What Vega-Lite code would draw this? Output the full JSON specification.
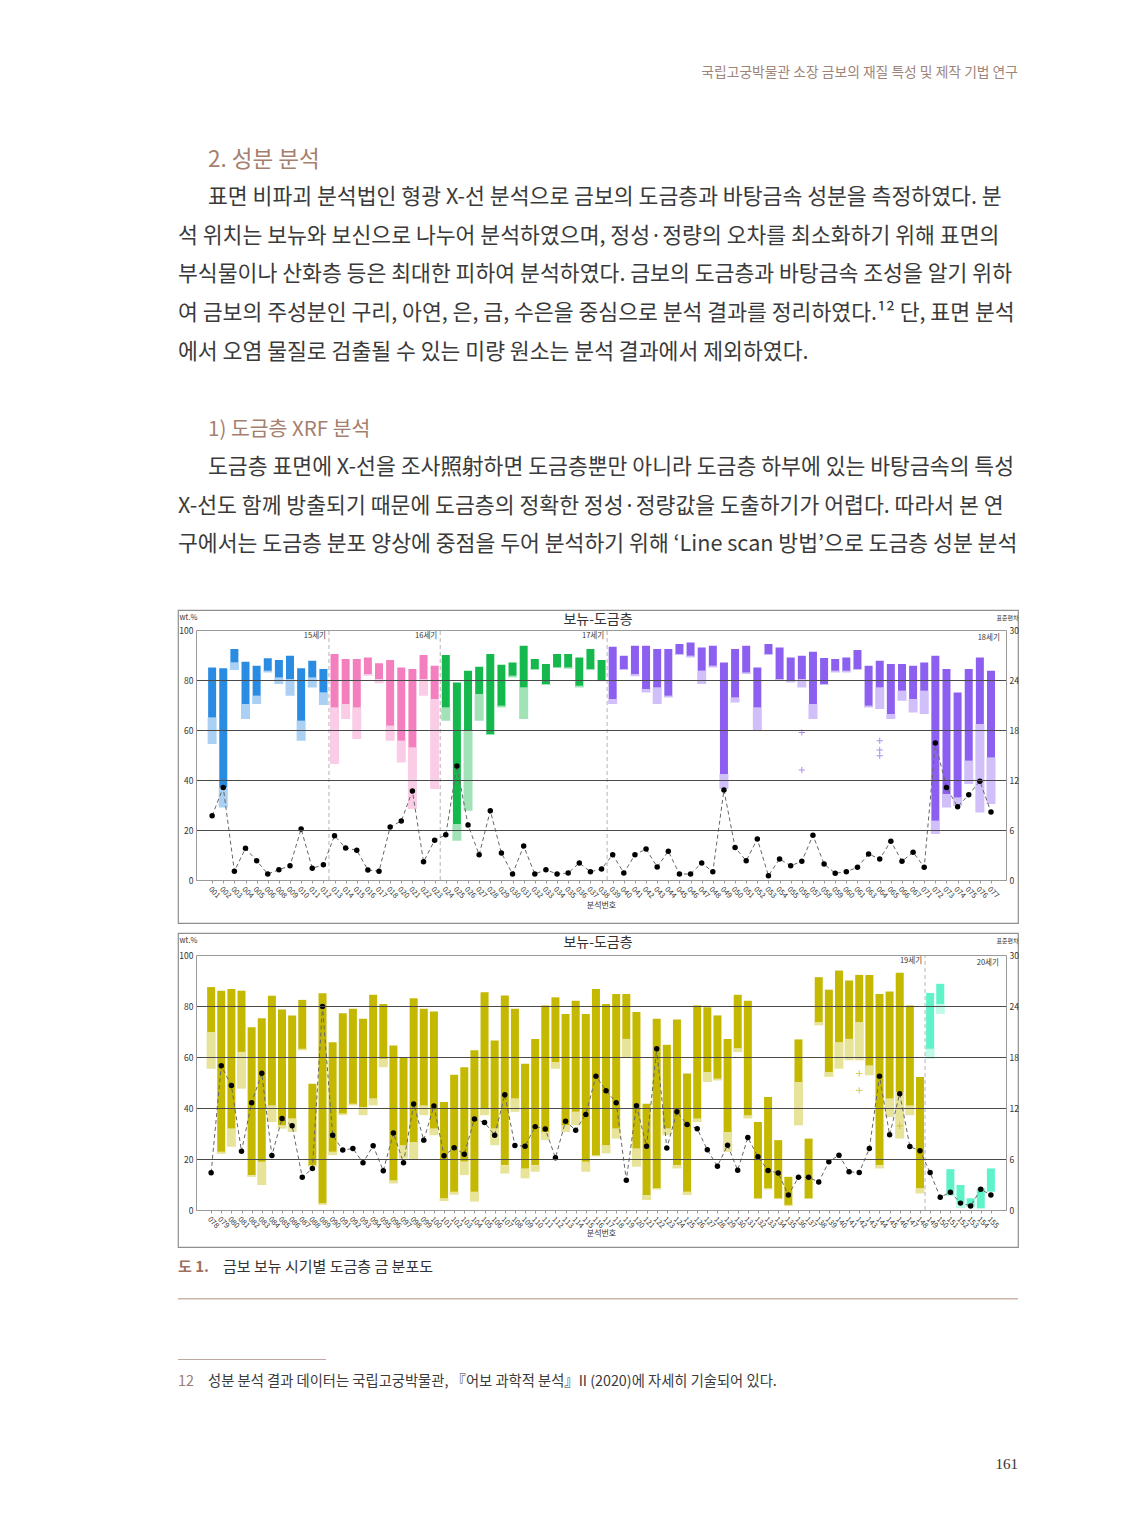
{
  "$schema": "https://vega.github.io/schema/vega-lite/v6.json",
  "background": "#ffffff",
  "padding": {"left": 177, "top": 55, "right": 0, "bottom": 0},
  "bounds": "flush",
  "spacing": 0,
  "config": {
    "font": "Noto Sans CJK KR",
    "view": {"stroke": null},
    "title": {"fontWeight": "normal"},
    "axis": {"labelOverlap": false}
  },
  "datasets": {
    "body": [
      {"row": 0, "kind": "h1", "text": "2. 성분 분석"},
      {"row": 1, "kind": "p1", "text": "표면 비파괴 분석법인 형광 X-선 분석으로 금보의 도금층과 바탕금속 성분을 측정하였다. 분"},
      {"row": 2, "kind": "p", "text": "석 위치는 보뉴와 보신으로 나누어 분석하였으며, 정성·정량의 오차를 최소화하기 위해 표면의"},
      {"row": 3, "kind": "p", "text": "부식물이나 산화층 등은 최대한 피하여 분석하였다. 금보의 도금층과 바탕금속 조성을 알기 위하"},
      {"row": 4, "kind": "p", "text": "여 금보의 주성분인 구리, 아연, 은, 금, 수은을 중심으로 분석 결과를 정리하였다.¹² 단, 표면 분석"},
      {"row": 5, "kind": "p", "text": "에서 오염 물질로 검출될 수 있는 미량 원소는 분석 결과에서 제외하였다."},
      {"row": 7, "kind": "h2", "text": "1) 도금층 XRF 분석"},
      {"row": 8, "kind": "p1", "text": "도금층 표면에 X-선을 조사照射하면 도금층뿐만 아니라 도금층 하부에 있는 바탕금속의 특성"},
      {"row": 9, "kind": "p", "text": "X-선도 함께 방출되기 때문에 도금층의 정확한 정성·정량값을 도출하기가 어렵다. 따라서 본 연"},
      {"row": 10, "kind": "p", "text": "구에서는 도금층 분포 양상에 중점을 두어 분석하기 위해 ‘Line scan 방법’으로 도금층 성분 분석"}
    ],
    "c1": [
      {"i": 1, "id": "001", "era": "b", "hi": 85, "lo": 65, "mn": 54.4, "sd": 7.71},
      {"i": 2, "id": "002", "era": "b", "hi": 84.7, "lo": 37, "mn": 29, "sd": 11.1},
      {"i": 3, "id": "003", "era": "b", "hi": 92.4, "lo": 87, "mn": 84, "sd": 1.05},
      {"i": 4, "id": "004", "era": "b", "hi": 87.3, "lo": 70.4, "mn": 64.4, "sd": 3.81},
      {"i": 5, "id": "005", "era": "b", "hi": 85.7, "lo": 73.7, "mn": 70.4, "sd": 2.31},
      {"i": 6, "id": "006", "era": "b", "hi": 88.7, "lo": 83.7, "mn": 83, "sd": 0.72},
      {"i": 7, "id": "008", "era": "b", "hi": 88, "lo": 81, "mn": 78.4, "sd": 1.23},
      {"i": 8, "id": "009", "era": "b", "hi": 89.7, "lo": 80.4, "mn": 73.7, "sd": 1.71},
      {"i": 9, "id": "010", "era": "b", "hi": 84.7, "lo": 63.7, "mn": 55.7, "sd": 6.12},
      {"i": 10, "id": "011", "era": "b", "hi": 87.7, "lo": 81, "mn": 77, "sd": 1.41},
      {"i": 11, "id": "012", "era": "b", "hi": 84.4, "lo": 75, "mn": 70, "sd": 1.83},
      {"i": 12, "id": "013", "era": "p", "hi": 90.4, "lo": 69, "mn": 46.4, "sd": 5.31},
      {"i": 13, "id": "014", "era": "p", "hi": 88.4, "lo": 70.4, "mn": 64.4, "sd": 3.84},
      {"i": 14, "id": "015", "era": "p", "hi": 88.4, "lo": 69, "mn": 56.4, "sd": 3.57},
      {"i": 15, "id": "016", "era": "p", "hi": 89, "lo": 82.4, "mn": 81.7, "sd": 1.2},
      {"i": 16, "id": "017", "era": "p", "hi": 86.7, "lo": 80.4, "mn": 78.7, "sd": 1.05},
      {"i": 17, "id": "018", "era": "p", "hi": 88, "lo": 61.7, "mn": 55.7, "sd": 6.36},
      {"i": 18, "id": "020", "era": "p", "hi": 85, "lo": 55.7, "mn": 47, "sd": 7.08},
      {"i": 19, "id": "021", "era": "p", "hi": 84.4, "lo": 53, "mn": 28.4, "sd": 10.68},
      {"i": 20, "id": "022", "era": "p", "hi": 90, "lo": 80.4, "mn": 73.7, "sd": 2.19},
      {"i": 21, "id": "023", "era": "p", "hi": 85.7, "lo": 72.4, "mn": 36.4, "sd": 4.77},
      {"i": 22, "id": "024", "era": "g", "hi": 90, "lo": 69, "mn": 63.7, "sd": 5.43},
      {"i": 23, "id": "025", "era": "g", "hi": 79, "lo": 22.4, "mn": 15.7, "sd": 13.68},
      {"i": 24, "id": "026", "era": "g", "hi": 83.7, "lo": 59.7, "mn": 27.7, "sd": 6.6},
      {"i": 25, "id": "027", "era": "g", "hi": 85.3, "lo": 74.4, "mn": 63.7, "sd": 3.03},
      {"i": 26, "id": "028", "era": "g", "hi": 90.4, "lo": 58.4, "mn": 58, "sd": 8.31},
      {"i": 27, "id": "029", "era": "g", "hi": 86.1, "lo": 69.7, "mn": 69, "sd": 3.24},
      {"i": 28, "id": "030", "era": "g", "hi": 87, "lo": 81.7, "mn": 81, "sd": 0.72},
      {"i": 29, "id": "031", "era": "g", "hi": 93.7, "lo": 77, "mn": 64.4, "sd": 4.08},
      {"i": 30, "id": "032", "era": "g", "hi": 88.4, "lo": 84.4, "mn": 84, "sd": 0.72},
      {"i": 31, "id": "033", "era": "g", "hi": 86.4, "lo": 78.4, "mn": 78, "sd": 1.23},
      {"i": 32, "id": "034", "era": "g", "hi": 90.4, "lo": 85, "mn": 85, "sd": 0.72},
      {"i": 33, "id": "035", "era": "g", "hi": 90.4, "lo": 85, "mn": 84.5, "sd": 0.84},
      {"i": 34, "id": "036", "era": "g", "hi": 89, "lo": 77.7, "mn": 77, "sd": 2.04},
      {"i": 35, "id": "037", "era": "g", "hi": 92.4, "lo": 84.4, "mn": 84, "sd": 0.99},
      {"i": 36, "id": "038", "era": "g", "hi": 88, "lo": 80, "mn": 79.5, "sd": 1.32},
      {"i": 37, "id": "039", "era": "v", "hi": 93.3, "lo": 72.4, "mn": 70.4, "sd": 3.03},
      {"i": 38, "id": "040", "era": "v", "hi": 89.7, "lo": 84.4, "mn": 84, "sd": 0.84},
      {"i": 39, "id": "041", "era": "v", "hi": 93.7, "lo": 82.4, "mn": 81.5, "sd": 3.03},
      {"i": 40, "id": "042", "era": "v", "hi": 93.7, "lo": 76.4, "mn": 75, "sd": 3.72},
      {"i": 41, "id": "043", "era": "v", "hi": 92.4, "lo": 77, "mn": 70.4, "sd": 1.56},
      {"i": 42, "id": "044", "era": "v", "hi": 92.4, "lo": 73.7, "mn": 73, "sd": 3.45},
      {"i": 43, "id": "045", "era": "v", "hi": 94.4, "lo": 90.4, "mn": 90, "sd": 0.72},
      {"i": 44, "id": "046", "era": "v", "hi": 95, "lo": 89.7, "mn": 89, "sd": 0.72},
      {"i": 45, "id": "047", "era": "v", "hi": 93, "lo": 83.7, "mn": 78.4, "sd": 2.04},
      {"i": 46, "id": "048", "era": "v", "hi": 93.7, "lo": 85.7, "mn": 85, "sd": 0.99},
      {"i": 47, "id": "049", "era": "v", "hi": 87, "lo": 42.4, "mn": 36.4, "sd": 10.8},
      {"i": 48, "id": "050", "era": "v", "hi": 92.4, "lo": 73, "mn": 71, "sd": 3.9},
      {"i": 49, "id": "051", "era": "v", "hi": 93.7, "lo": 83, "mn": 82.4, "sd": 2.31},
      {"i": 50, "id": "052", "era": "v", "hi": 85, "lo": 69, "mn": 59.7, "sd": 4.92},
      {"i": 51, "id": "053", "era": "v", "hi": 94.4, "lo": 90.4, "mn": 90, "sd": 0.51},
      {"i": 52, "id": "054", "era": "v", "hi": 93, "lo": 80.4, "mn": 80, "sd": 2.52},
      {"i": 53, "id": "055", "era": "v", "hi": 89, "lo": 79.7, "mn": 79, "sd": 1.71},
      {"i": 54, "id": "056", "era": "v", "hi": 89.7, "lo": 80.4, "mn": 77, "sd": 2.25},
      {"i": 55, "id": "057", "era": "v", "hi": 91.3, "lo": 70.4, "mn": 64.4, "sd": 5.37},
      {"i": 56, "id": "058", "era": "v", "hi": 88.8, "lo": 78.4, "mn": 78, "sd": 1.92},
      {"i": 57, "id": "059", "era": "v", "hi": 88.4, "lo": 83.7, "mn": 83, "sd": 0.81},
      {"i": 58, "id": "060", "era": "v", "hi": 89, "lo": 83.7, "mn": 83, "sd": 0.99},
      {"i": 59, "id": "061", "era": "v", "hi": 92, "lo": 84.4, "mn": 84, "sd": 1.53},
      {"i": 60, "id": "063", "era": "v", "hi": 85.7, "lo": 69.7, "mn": 69, "sd": 3.12},
      {"i": 61, "id": "064", "era": "v", "hi": 87.7, "lo": 77, "mn": 68.4, "sd": 2.52},
      {"i": 62, "id": "065", "era": "v", "hi": 86.4, "lo": 66.4, "mn": 64.4, "sd": 4.65},
      {"i": 63, "id": "066", "era": "v", "hi": 86.4, "lo": 75.7, "mn": 71.7, "sd": 2.25},
      {"i": 64, "id": "067", "era": "v", "hi": 85.7, "lo": 72.4, "mn": 67, "sd": 3.33},
      {"i": 65, "id": "071", "era": "v", "hi": 87, "lo": 75.7, "mn": 66.4, "sd": 1.53},
      {"i": 66, "id": "072", "era": "v", "hi": 89.7, "lo": 23.7, "mn": 18.4, "sd": 16.44},
      {"i": 67, "id": "073", "era": "v", "hi": 84.4, "lo": 34.4, "mn": 29, "sd": 11.1},
      {"i": 68, "id": "074", "era": "v", "hi": 75, "lo": 33, "mn": 29.7, "sd": 8.79},
      {"i": 69, "id": "075", "era": "v", "hi": 84.4, "lo": 47.7, "mn": 38.4, "sd": 10.23},
      {"i": 70, "id": "076", "era": "v", "hi": 89, "lo": 62.4, "mn": 27, "sd": 11.85},
      {"i": 71, "id": "077", "era": "v", "hi": 83.7, "lo": 49, "mn": 30.4, "sd": 8.16}
    ],
    "out1": [
      {"i": 54, "era": "v", "v": 59},
      {"i": 54, "era": "v", "v": 44},
      {"i": 61, "era": "v", "v": 55.7},
      {"i": 61, "era": "v", "v": 52},
      {"i": 61, "era": "v", "v": 49.7}
    ],
    "era1": [
      {"i": 11.5, "label": "15세기", "boundary": true},
      {"i": 21.5, "label": "16세기", "boundary": true},
      {"i": 36.5, "label": "17세기", "boundary": true},
      {"i": 70.8, "label": "18세기", "boundary": false}
    ],
    "c2": [
      {"n": 78, "era": "o", "hi": 87.4, "lo": 69.8, "mn": 55.4, "sd": 4.38},
      {"n": 79, "era": "o", "hi": 86, "lo": 22.8, "mn": 22, "sd": 16.98},
      {"n": 80, "era": "o", "hi": 86.7, "lo": 32, "mn": 24.8, "sd": 14.64},
      {"n": 81, "era": "o", "hi": 86, "lo": 62, "mn": 47.6, "sd": 6.9},
      {"n": 82, "era": "o", "hi": 71.7, "lo": 13.7, "mn": 13, "sd": 12.63},
      {"n": 83, "era": "o", "hi": 75.2, "lo": 18.9, "mn": 9.8, "sd": 16.08},
      {"n": 84, "era": "o", "hi": 84, "lo": 41, "mn": 34.5, "sd": 6.42},
      {"n": 85, "era": "o", "hi": 78.6, "lo": 33.2, "mn": 31.9, "sd": 10.77},
      {"n": 86, "era": "o", "hi": 76.3, "lo": 35.9, "mn": 30.6, "sd": 9.9},
      {"n": 87, "era": "o", "hi": 82.4, "lo": 63.2, "mn": 62.6, "sd": 3.84},
      {"n": 88, "era": "o", "hi": 49.5, "lo": 17.6, "mn": 17, "sd": 4.89},
      {"n": 89, "era": "o", "hi": 85, "lo": 2.6, "mn": 2, "sd": 23.94},
      {"n": 90, "era": "o", "hi": 65.8, "lo": 22.8, "mn": 21.5, "sd": 8.79},
      {"n": 91, "era": "o", "hi": 77.2, "lo": 37.8, "mn": 37.2, "sd": 7.05},
      {"n": 92, "era": "o", "hi": 78.9, "lo": 41.7, "mn": 41, "sd": 7.23},
      {"n": 93, "era": "o", "hi": 75, "lo": 40.4, "mn": 37.2, "sd": 5.55},
      {"n": 94, "era": "o", "hi": 84.4, "lo": 43.7, "mn": 41, "sd": 7.56},
      {"n": 95, "era": "o", "hi": 80.8, "lo": 59.3, "mn": 56, "sd": 4.62},
      {"n": 96, "era": "o", "hi": 64.5, "lo": 11.7, "mn": 10.4, "sd": 9.06},
      {"n": 97, "era": "o", "hi": 60, "lo": 25.4, "mn": 20.2, "sd": 5.55},
      {"n": 98, "era": "o", "hi": 83, "lo": 26.7, "mn": 19.6, "sd": 12.48},
      {"n": 99, "era": "o", "hi": 78.9, "lo": 41, "mn": 37.2, "sd": 8.22},
      {"n": 100, "era": "o", "hi": 77.8, "lo": 32, "mn": 29.3, "sd": 12.24},
      {"n": 101, "era": "o", "hi": 42.4, "lo": 4.6, "mn": 3.5, "sd": 6.39},
      {"n": 102, "era": "o", "hi": 53, "lo": 7.2, "mn": 6, "sd": 7.32},
      {"n": 103, "era": "o", "hi": 56, "lo": 19, "mn": 13.7, "sd": 6.57},
      {"n": 104, "era": "o", "hi": 62.6, "lo": 7.2, "mn": 3.3, "sd": 10.71},
      {"n": 105, "era": "o", "hi": 85.4, "lo": 39.8, "mn": 37.2, "sd": 10.29},
      {"n": 106, "era": "o", "hi": 66.5, "lo": 32, "mn": 25.4, "sd": 8.79},
      {"n": 107, "era": "o", "hi": 84.1, "lo": 17.6, "mn": 14.3, "sd": 13.56},
      {"n": 108, "era": "o", "hi": 78.9, "lo": 43.7, "mn": 38.5, "sd": 7.59},
      {"n": 109, "era": "o", "hi": 57.4, "lo": 16.3, "mn": 12.4, "sd": 7.5},
      {"n": 110, "era": "o", "hi": 67.1, "lo": 17.6, "mn": 15, "sd": 9.81},
      {"n": 111, "era": "o", "hi": 80.2, "lo": 30.6, "mn": 27.4, "sd": 9.54},
      {"n": 112, "era": "o", "hi": 83.4, "lo": 58, "mn": 55.4, "sd": 6.15},
      {"n": 113, "era": "o", "hi": 76.9, "lo": 33.2, "mn": 30.6, "sd": 10.44},
      {"n": 114, "era": "o", "hi": 82.1, "lo": 38.5, "mn": 33.2, "sd": 9.39},
      {"n": 115, "era": "o", "hi": 76.9, "lo": 18.9, "mn": 15, "sd": 11.25},
      {"n": 116, "era": "o", "hi": 86.7, "lo": 21.5, "mn": 21, "sd": 15.75},
      {"n": 117, "era": "o", "hi": 80.8, "lo": 25.4, "mn": 22.2, "sd": 14.04},
      {"n": 118, "era": "o", "hi": 84.7, "lo": 32, "mn": 28, "sd": 12.63},
      {"n": 119, "era": "o", "hi": 84.7, "lo": 67.1, "mn": 60, "sd": 3.51},
      {"n": 120, "era": "o", "hi": 77.6, "lo": 24.1, "mn": 17, "sd": 12.27},
      {"n": 121, "era": "o", "hi": 41.7, "lo": 5.9, "mn": 3.9, "sd": 7.5},
      {"n": 122, "era": "o", "hi": 75, "lo": 8.5, "mn": 8, "sd": 18.96},
      {"n": 123, "era": "o", "hi": 64.8, "lo": 32, "mn": 29.3, "sd": 7.29},
      {"n": 124, "era": "o", "hi": 74.7, "lo": 17.6, "mn": 16.3, "sd": 11.55},
      {"n": 125, "era": "o", "hi": 53.5, "lo": 7.2, "mn": 5.9, "sd": 10.05},
      {"n": 126, "era": "o", "hi": 80.2, "lo": 35.9, "mn": 34.5, "sd": 9.57},
      {"n": 127, "era": "o", "hi": 79.5, "lo": 54.1, "mn": 50.2, "sd": 7.08},
      {"n": 128, "era": "o", "hi": 76.3, "lo": 51.5, "mn": 50.8, "sd": 5.16},
      {"n": 129, "era": "o", "hi": 67.1, "lo": 30.6, "mn": 22.8, "sd": 7.62},
      {"n": 130, "era": "o", "hi": 84.4, "lo": 63.5, "mn": 61.9, "sd": 4.68},
      {"n": 131, "era": "o", "hi": 82.1, "lo": 37.2, "mn": 35.9, "sd": 8.52},
      {"n": 132, "era": "o", "hi": 34.5, "lo": 4.6, "mn": 4.3, "sd": 6.27},
      {"n": 133, "era": "o", "hi": 44.3, "lo": 8.5, "mn": 8, "sd": 4.65},
      {"n": 134, "era": "o", "hi": 27.4, "lo": 4.6, "mn": 4.3, "sd": 4.35},
      {"n": 135, "era": "o", "hi": 13, "lo": 2, "mn": 1.5, "sd": 1.77},
      {"n": 136, "era": "o", "hi": 66.9, "lo": 50.2, "mn": 33.2, "sd": 3.84},
      {"n": 137, "era": "o", "hi": 28, "lo": 4.6, "mn": 4.3, "sd": 3.84},
      {"n": 138, "era": "o", "hi": 91.3, "lo": 73.7, "mn": 72.4, "sd": 3.3},
      {"n": 139, "era": "o", "hi": 86.4, "lo": 54.1, "mn": 52.2, "sd": 5.67},
      {"n": 140, "era": "o", "hi": 93.9, "lo": 65.8, "mn": 55.4, "sd": 6.45},
      {"n": 141, "era": "o", "hi": 90, "lo": 67.1, "mn": 58.7, "sd": 4.5},
      {"n": 142, "era": "o", "hi": 92.2, "lo": 73.7, "mn": 58.7, "sd": 4.41},
      {"n": 143, "era": "o", "hi": 92.2, "lo": 56.7, "mn": 52.8, "sd": 7.23},
      {"n": 144, "era": "o", "hi": 84.7, "lo": 17.6, "mn": 16.3, "sd": 15.75},
      {"n": 145, "era": "o", "hi": 85.7, "lo": 43.7, "mn": 36.5, "sd": 8.85},
      {"n": 146, "era": "o", "hi": 93, "lo": 46.3, "mn": 28, "sd": 13.68},
      {"n": 147, "era": "o", "hi": 80.2, "lo": 41, "mn": 37.2, "sd": 7.47},
      {"n": 148, "era": "o", "hi": 52.2, "lo": 8.5, "mn": 6.5, "sd": 6.96},
      {"n": 149, "era": "a", "hi": 85.1, "lo": 63.2, "mn": 59.3, "sd": 4.41},
      {"n": 150, "era": "a", "hi": 88.7, "lo": 80.8, "mn": 76.9, "sd": 1.5},
      {"n": 151, "era": "a", "hi": 16, "lo": 5.9, "mn": 5.5, "sd": 2.1},
      {"n": 152, "era": "a", "hi": 9.8, "lo": 2.6, "mn": 0.7, "sd": 0.81},
      {"n": 153, "era": "a", "hi": 4.6, "lo": 1.3, "mn": 1, "sd": 0.48},
      {"n": 154, "era": "a", "hi": 8.5, "lo": 0.7, "mn": 0.5, "sd": 2.43},
      {"n": 155, "era": "a", "hi": 16.3, "lo": 7.2, "mn": 7, "sd": 1.77}
    ],
    "out2": [
      {"n": 142, "era": "o", "v": 53.5},
      {"n": 142, "era": "o", "v": 46.9},
      {"n": 146, "era": "o", "v": 33}
    ],
    "era2": [
      {"n": 148.5, "label": "19세기", "boundary": true},
      {"n": 154.7, "label": "20세기", "boundary": false}
    ]
  },
  "vconcat": [
    {
      "width": 840,
      "height": 36,
      "data": {"values": [{"t": "국립고궁박물관 소장 금보의 재질 특성 및 제작 기법 연구"}]},
      "mark": {"type": "text", "align": "right", "baseline": "middle", "fontSize": 13.8, "color": "#9e8479"},
      "encoding": {"x": {"value": "width"}, "text": {"field": "t"}}
    },
    {
      "width": 840,
      "height": 519,
      "data": {"name": "body"},
      "encoding": {
        "y": {"field": "row", "type": "quantitative", "scale": {"domain": [-1.792, 11.688], "reverse": true, "nice": false, "zero": false}, "axis": null},
        "x": {"value": 0},
        "text": {"field": "text"}
      },
      "layer": [
        {"transform": [{"filter": "datum.kind == 'p'"}], "mark": {"type": "text", "align": "left", "baseline": "middle", "fontSize": 21.6, "color": "#3a3a3a"}},
        {"transform": [{"filter": "datum.kind == 'p1'"}], "mark": {"type": "text", "align": "left", "baseline": "middle", "dx": 30, "fontSize": 21.6, "color": "#3a3a3a"}},
        {"transform": [{"filter": "datum.kind == 'h1'"}], "mark": {"type": "text", "align": "left", "baseline": "middle", "dx": 30, "fontSize": 22.5, "color": "#a5806f"}},
        {"transform": [{"filter": "datum.kind == 'h2'"}], "mark": {"type": "text", "align": "left", "baseline": "middle", "dx": 30, "fontSize": 20.5, "color": "#a5806f"}}
      ]
    },
    {
      "width": 840,
      "height": 313,
      "view": {"stroke": "#8f8f8f", "strokeWidth": 1.2},
      "title": {"text": "보뉴-도금층", "offset": -17, "fontSize": 14, "color": "#333333", "anchor": "middle", "fontWeight": "normal"},
      "encoding": {
        "x": {"field": "i", "type": "quantitative", "scale": {"domain": [0, 71.9], "range": [18, 828], "nice": false, "zero": false},
          "axis": {"values": [1,2,3,4,5,6,7,8,9,10,11,12,13,14,15,16,17,18,19,20,21,22,23,24,25,26,27,28,29,30,31,32,33,34,35,36,37,38,39,40,41,42,43,44,45,46,47,48,49,50,51,52,53,54,55,56,57,58,59,60,61,62,63,64,65,66,67,68,69,70,71],
            "labelExpr": "['001','002','003','004','005','006','008','009','010','011','012','013','014','015','016','017','018','020','021','022','023','024','025','026','027','028','029','030','031','032','033','034','035','036','037','038','039','040','041','042','043','044','045','046','047','048','049','050','051','052','053','054','055','056','057','058','059','060','061','063','064','065','066','067','071','072','073','074','075','076','077'][datum.value-1]",
            "labelAngle": 45, "labelFontSize": 7.5, "labelColor": "#333333", "labelPadding": 2, "labelOverlap": false, "labelFlush": false, "labelBound": false,
            "ticks": true, "tickSize": 3, "tickColor": "#9a9a9a", "domainColor": "#8a8a8a", "grid": false, "offset": -43,
            "title": "분석번호", "titleFontSize": 8, "titleFontWeight": "normal", "titleColor": "#333333", "titleY": 25, "titleBaseline": "middle"}}
      },
      "resolve": {"scale": {"y": "independent"}},
      "layer": [
        {
          "layer": [
            {
              "data": {"name": "c1"},
              "mark": {"type": "bar", "width": 9, "opacity": 0.4},
              "encoding": {
                "y": {"field": "mn", "type": "quantitative", "scale": {"domain": [0, 100], "range": [270, 20], "nice": false, "zero": false},
                  "axis": {"orient": "left", "values": [0, 20, 40, 60, 80, 100], "offset": -18, "zindex": 1,
                    "grid": true, "gridColor": {"condition": {"test": "datum.value == 0 || datum.value == 100", "value": "#9a9a9a"}, "value": "#4a4a4a"}, "gridWidth": 1,
                    "domainColor": "#9a9a9a", "ticks": false, "labelPadding": 3, "labelFontSize": 8.5, "labelColor": "#333333", "labelFlush": false,
                    "title": "wt.%", "titleAngle": 0, "titleX": -17, "titleY": 7, "titleAlign": "left", "titleBaseline": "middle", "titleFontSize": 7.5, "titleFontWeight": "normal", "titleColor": "#333333"}},
                "y2": {"field": "lo"},
                "color": {"field": "era", "type": "nominal", "scale": {"domain": ["b", "p", "g", "v", "o", "a"], "range": ["#2a8be3", "#f37fbf", "#15b84c", "#8c5ff0", "#c4b900", "#5ff3c9"]}, "legend": null}
              }
            },
            {
              "data": {"name": "c1"},
              "mark": {"type": "bar", "width": 8},
              "encoding": {
                "y": {"field": "lo", "type": "quantitative", "scale": {"domain": [0, 100], "range": [270, 20], "nice": false, "zero": false}},
                "y2": {"field": "hi"},
                "color": {"field": "era", "type": "nominal", "legend": null}
              }
            },
            {
              "data": {"name": "out1"},
              "mark": {"type": "point", "shape": "M-1,0L1,0M0,-1L0,1", "filled": false, "size": 40, "strokeWidth": 1, "opacity": 0.7},
              "encoding": {
                "y": {"field": "v", "type": "quantitative", "scale": {"domain": [0, 100], "range": [270, 20], "nice": false, "zero": false}},
                "color": {"field": "era", "type": "nominal", "legend": null}
              }
            },
            {
              "data": {"name": "era1"},
              "transform": [{"filter": "datum.boundary"}],
              "mark": {"type": "rule", "strokeDash": [4, 3], "color": "#b5b5b5", "strokeWidth": 1},
              "encoding": {
                "y": {"datum": 0, "type": "quantitative", "scale": {"domain": [0, 100], "range": [270, 20], "nice": false, "zero": false}},
                "y2": {"datum": 100}
              }
            },
            {
              "data": {"name": "era1"},
              "transform": [{"filter": "datum.boundary"}],
              "mark": {"type": "text", "align": "right", "baseline": "middle", "dx": -3, "fontSize": 7.5, "color": "#333333"},
              "encoding": {
                "y": {"datum": 97.5, "type": "quantitative", "scale": {"domain": [0, 100], "range": [270, 20], "nice": false, "zero": false}},
                "text": {"field": "label"}
              }
            },
            {
              "data": {"name": "era1"},
              "transform": [{"filter": "!datum.boundary"}],
              "mark": {"type": "text", "align": "center", "baseline": "middle", "fontSize": 7.5, "color": "#333333"},
              "encoding": {
                "y": {"datum": 97, "type": "quantitative", "scale": {"domain": [0, 100], "range": [270, 20], "nice": false, "zero": false}},
                "text": {"field": "label"}
              }
            }
          ]
        },
        {
          "data": {"name": "c1"},
          "layer": [
            {
              "mark": {"type": "line", "strokeDash": [4, 3], "color": "#666666", "strokeWidth": 1},
              "encoding": {
                "y": {"field": "sd", "type": "quantitative", "scale": {"domain": [0, 30], "range": [270, 20], "nice": false, "zero": false},
                  "axis": {"orient": "right", "values": [0, 6, 12, 18, 24, 30], "offset": -12, "zindex": 1, "grid": false, "ticks": false,
                    "domainColor": "#9a9a9a", "labelPadding": 3, "labelFontSize": 8.5, "labelColor": "#333333", "labelFlush": false,
                    "title": "표준편차", "titleAngle": 0, "titleX": 1, "titleY": 7, "titleAlign": "center", "titleBaseline": "middle", "titleFontSize": 6, "titleFontWeight": "normal", "titleColor": "#333333"}}
              }
            },
            {
              "mark": {"type": "point", "filled": true, "color": "#000000", "size": 30, "opacity": 1},
              "encoding": {
                "y": {"field": "sd", "type": "quantitative", "scale": {"domain": [0, 30], "range": [270, 20], "nice": false, "zero": false}}
              }
            }
          ]
        }
      ]
    },
    {
      "width": 840,
      "height": 10,
      "data": {"values": []},
      "mark": "text",
      "encoding": {}
    },
    {
      "width": 840,
      "height": 314,
      "view": {"stroke": "#8f8f8f", "strokeWidth": 1.2},
      "title": {"text": "보뉴-도금층", "offset": -17, "fontSize": 14, "color": "#333333", "anchor": "middle", "fontWeight": "normal"},
      "encoding": {
        "x": {"field": "n", "type": "quantitative", "scale": {"domain": [77, 156], "range": [18, 828], "nice": false, "zero": false},
          "axis": {"values": [78,79,80,81,82,83,84,85,86,87,88,89,90,91,92,93,94,95,96,97,98,99,100,101,102,103,104,105,106,107,108,109,110,111,112,113,114,115,116,117,118,119,120,121,122,123,124,125,126,127,128,129,130,131,132,133,134,135,136,137,138,139,140,141,142,143,144,145,146,147,148,149,150,151,152,153,154,155],
            "labelExpr": "pad(toString(datum.value), 3, '0', 'left')",
            "labelAngle": 45, "labelFontSize": 7.5, "labelColor": "#333333", "labelPadding": 2, "labelOverlap": false, "labelFlush": false, "labelBound": false,
            "ticks": true, "tickSize": 3, "tickColor": "#9a9a9a", "domainColor": "#8a8a8a", "grid": false, "offset": -37,
            "title": "분석번호", "titleFontSize": 8, "titleFontWeight": "normal", "titleColor": "#333333", "titleY": 23, "titleBaseline": "middle"}}
      },
      "resolve": {"scale": {"y": "independent"}},
      "layer": [
        {
          "layer": [
            {
              "data": {"name": "c2"},
              "mark": {"type": "bar", "width": 9, "opacity": 0.4},
              "encoding": {
                "y": {"field": "mn", "type": "quantitative", "scale": {"domain": [0, 100], "range": [277, 22], "nice": false, "zero": false},
                  "axis": {"orient": "left", "values": [0, 20, 40, 60, 80, 100], "offset": -18, "zindex": 1,
                    "grid": true, "gridColor": {"condition": {"test": "datum.value == 0 || datum.value == 100", "value": "#9a9a9a"}, "value": "#4a4a4a"}, "gridWidth": 1,
                    "domainColor": "#9a9a9a", "ticks": false, "labelPadding": 3, "labelFontSize": 8.5, "labelColor": "#333333", "labelFlush": false,
                    "title": "wt.%", "titleAngle": 0, "titleX": -17, "titleY": 7, "titleAlign": "left", "titleBaseline": "middle", "titleFontSize": 7.5, "titleFontWeight": "normal", "titleColor": "#333333"}},
                "y2": {"field": "lo"},
                "color": {"field": "era", "type": "nominal", "scale": {"domain": ["b", "p", "g", "v", "o", "a"], "range": ["#2a8be3", "#f37fbf", "#15b84c", "#8c5ff0", "#c4b900", "#5ff3c9"]}, "legend": null}
              }
            },
            {
              "data": {"name": "c2"},
              "mark": {"type": "bar", "width": 8},
              "encoding": {
                "y": {"field": "lo", "type": "quantitative", "scale": {"domain": [0, 100], "range": [277, 22], "nice": false, "zero": false}},
                "y2": {"field": "hi"},
                "color": {"field": "era", "type": "nominal", "legend": null}
              }
            },
            {
              "data": {"name": "out2"},
              "mark": {"type": "point", "shape": "M-1,0L1,0M0,-1L0,1", "filled": false, "size": 40, "strokeWidth": 1, "opacity": 0.7},
              "encoding": {
                "y": {"field": "v", "type": "quantitative", "scale": {"domain": [0, 100], "range": [277, 22], "nice": false, "zero": false}},
                "color": {"field": "era", "type": "nominal", "legend": null}
              }
            },
            {
              "data": {"name": "era2"},
              "transform": [{"filter": "datum.boundary"}],
              "mark": {"type": "rule", "strokeDash": [4, 3], "color": "#b5b5b5", "strokeWidth": 1},
              "encoding": {
                "y": {"datum": 0, "type": "quantitative", "scale": {"domain": [0, 100], "range": [277, 22], "nice": false, "zero": false}},
                "y2": {"datum": 100}
              }
            },
            {
              "data": {"name": "era2"},
              "transform": [{"filter": "datum.boundary"}],
              "mark": {"type": "text", "align": "right", "baseline": "middle", "dx": -3, "fontSize": 7.5, "color": "#333333"},
              "encoding": {
                "y": {"datum": 97.5, "type": "quantitative", "scale": {"domain": [0, 100], "range": [277, 22], "nice": false, "zero": false}},
                "text": {"field": "label"}
              }
            },
            {
              "data": {"name": "era2"},
              "transform": [{"filter": "!datum.boundary"}],
              "mark": {"type": "text", "align": "center", "baseline": "middle", "fontSize": 7.5, "color": "#333333"},
              "encoding": {
                "y": {"datum": 97, "type": "quantitative", "scale": {"domain": [0, 100], "range": [277, 22], "nice": false, "zero": false}},
                "text": {"field": "label"}
              }
            }
          ]
        },
        {
          "data": {"name": "c2"},
          "layer": [
            {
              "mark": {"type": "line", "strokeDash": [4, 3], "color": "#666666", "strokeWidth": 1},
              "encoding": {
                "y": {"field": "sd", "type": "quantitative", "scale": {"domain": [0, 30], "range": [277, 22], "nice": false, "zero": false},
                  "axis": {"orient": "right", "values": [0, 6, 12, 18, 24, 30], "offset": -12, "zindex": 1, "grid": false, "ticks": false,
                    "domainColor": "#9a9a9a", "labelPadding": 3, "labelFontSize": 8.5, "labelColor": "#333333", "labelFlush": false,
                    "title": "표준편차", "titleAngle": 0, "titleX": 1, "titleY": 7, "titleAlign": "center", "titleBaseline": "middle", "titleFontSize": 6, "titleFontWeight": "normal", "titleColor": "#333333"}}
              }
            },
            {
              "mark": {"type": "point", "filled": true, "color": "#000000", "size": 30, "opacity": 1},
              "encoding": {
                "y": {"field": "sd", "type": "quantitative", "scale": {"domain": [0, 30], "range": [277, 22], "nice": false, "zero": false}}
              }
            }
          ]
        }
      ]
    },
    {
      "width": 840,
      "height": 51,
      "data": {"values": [{"label": "도 1.", "caption": "금보 보뉴 시기별 도금층 금 분포도"}]},
      "layer": [
        {"mark": {"type": "text", "align": "left", "baseline": "middle", "dy": -5.5, "fontSize": 15, "color": "#9c6f5e", "fontWeight": "bold"},
         "encoding": {"x": {"value": 0}, "text": {"field": "label"}}},
        {"mark": {"type": "text", "align": "left", "baseline": "middle", "dx": 45, "dy": -5.5, "fontSize": 15, "color": "#333333"},
         "encoding": {"x": {"value": 0}, "text": {"field": "caption"}}}
      ]
    },
    {
      "width": 840,
      "height": 1.5,
      "view": {"fill": "#ccb5ab", "stroke": null},
      "data": {"values": []},
      "mark": "text",
      "encoding": {}
    },
    {
      "width": 840,
      "height": 58.5,
      "data": {"values": []},
      "mark": "text",
      "encoding": {}
    },
    {
      "width": 148,
      "height": 1,
      "view": {"fill": "#bda89f", "stroke": null},
      "data": {"values": []},
      "mark": "text",
      "encoding": {}
    },
    {
      "width": 840,
      "height": 44,
      "data": {"values": [{"num": "12", "note": "성분 분석 결과 데이터는 국립고궁박물관, 『어보 과학적 분석』II (2020)에 자세히 기술되어 있다."}]},
      "layer": [
        {"mark": {"type": "text", "align": "left", "baseline": "middle", "fontSize": 14.3, "color": "#9c7e72"},
         "encoding": {"x": {"value": 0}, "text": {"field": "num"}}},
        {"mark": {"type": "text", "align": "left", "baseline": "middle", "dx": 30, "fontSize": 14.3, "color": "#3a3a3a"},
         "encoding": {"x": {"value": 0}, "text": {"field": "note"}}}
      ]
    },
    {
      "width": 840,
      "height": 120,
      "data": {"values": [{"page": "161"}]},
      "mark": {"type": "text", "align": "right", "baseline": "middle", "fontSize": 15, "font": "Liberation Serif", "color": "#333333"},
      "encoding": {"x": {"value": "width"}, "text": {"field": "page"}}
    }
  ]
}
